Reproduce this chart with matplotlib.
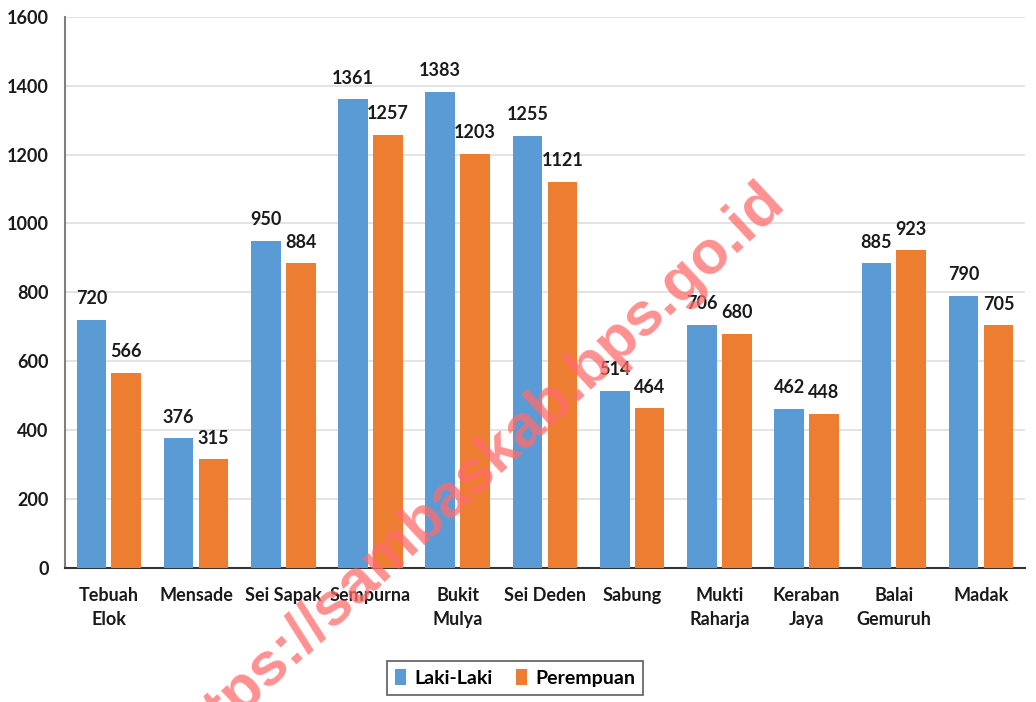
import numpy as np
import matplotlib.pyplot as plt

plt.rcParams['font.family'] = ['Lato', 'DejaVu Sans']

desa = ['Tebuah\nElok', 'Mensade', 'Sei Sapak', 'Sempurna', 'Bukit\nMulya',
        'Sei Deden', 'Sabung', 'Mukti\nRaharja', 'Keraban\nJaya',
        'Balai\nGemuruh', 'Madak']
laki = [720, 376, 950, 1361, 1383, 1255, 514, 706, 462, 885, 790]
perempuan = [566, 315, 884, 1257, 1203, 1121, 464, 680, 448, 923, 705]
yticks = [0, 200, 400, 600, 800, 1000, 1200, 1400, 1600]

blue = '#5b9bd5'
orange = '#ed7d31'

fig = plt.figure(figsize=(10.36, 7.02), dpi=100)
ax = fig.add_axes([0.063, 0.191, 0.926, 0.785])

x = np.arange(len(desa))
w = 0.34
b1 = ax.bar(x - 0.2, laki, w, color=blue, label='Laki-Laki', zorder=3)
b2 = ax.bar(x + 0.2, perempuan, w, color=orange, label='Perempuan', zorder=3)

for bars in (b1, b2):
    for r in bars:
        ax.annotate(str(int(r.get_height())), (r.get_x() + r.get_width() / 2, r.get_height()),
                    xytext=(0, 9), textcoords='offset points', ha='center', va='bottom',
                    fontsize=13, fontweight='bold', color='#1a1a1a', zorder=4)

ax.set_xlim(-0.5, len(desa) - 0.5)
ax.set_ylim(0, 1600)
ax.set_yticks(yticks)
ax.set_yticklabels([str(v) for v in yticks], fontsize=13, fontweight='bold', color='#1a1a1a')
ax.set_xticks(x)
ax.set_xticklabels(desa, fontsize=13, fontweight='bold', color='#1a1a1a', linespacing=1.5)
ax.tick_params(axis='both', length=0)
ax.tick_params(axis='x', pad=14)
ax.tick_params(axis='y', pad=12)
ax.grid(axis='y', color='#dedede', lw=1.2, zorder=0)

for s in ['top', 'right']:
    ax.spines[s].set_visible(False)
ax.spines['left'].set_color('#7f7f7f')
ax.spines['left'].set_linewidth(1.5)
ax.spines['bottom'].set_color('#333333')
ax.spines['bottom'].set_linewidth(1.5)

leg = fig.legend(loc='center', bbox_to_anchor=(0.497, 0.034), ncol=2,
                 frameon=True, fancybox=False, edgecolor='#333333',
                 handlelength=0.6, handleheight=0.9, handletextpad=0.4, columnspacing=1.2,
                 prop={'weight': 'bold', 'size': 14})
leg.get_frame().set_linewidth(1.2)

# watermark
fig.text(0.458, 0.325, 'https://sambaskab.bps.go.id', fontsize=44, fontweight='bold',
         family='Liberation Sans', color='#ff6b6b', alpha=0.75, rotation=43,
         ha='center', va='center', zorder=10)

fig.savefig('out.png', dpi=100)
